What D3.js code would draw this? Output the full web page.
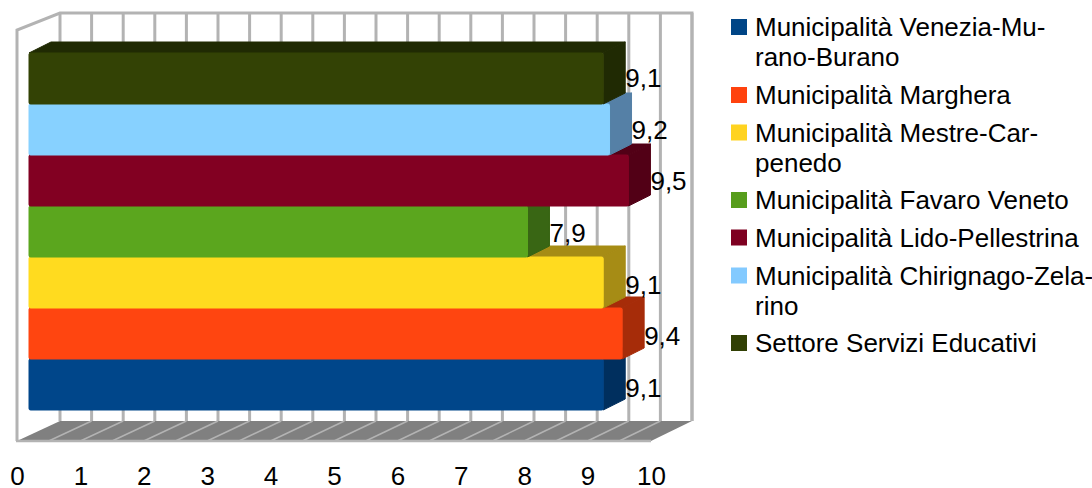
<!DOCTYPE html>
<html>
<head>
<meta charset="utf-8">
<script src="https://cdn.jsdelivr.net/npm/d3@7/dist/d3.min.js"></script>
<style>
  html, body { margin: 0; padding: 0; background: #fff; }
  svg { display: block; }
  text { font-family: "Liberation Sans", sans-serif; fill: #000; }
</style>
</head>
<body>
<svg id="chart" width="1092" height="488"></svg>
<script>
// Series, listed bottom bar first
const seriesNames = [
  "Municipalità Venezia-Murano-Burano",
  "Municipalità Marghera",
  "Municipalità Mestre-Carpenedo",
  "Municipalità Favaro Veneto",
  "Municipalità Lido-Pellestrina",
  "Municipalità Chirignago-Zelarino",
  "Settore Servizi Educativi"
];
const seriesValues = [9.1, 9.4, 9.1, 7.9, 9.5, 9.2, 9.1];
const seriesColors = ["#004586", "#ff420e", "#ffd320", "#579d1c", "#7e0021", "#83caff", "#314004"];
// Lit front faces are a little brighter than the flat legend swatches
const frontColors  = ["#00468a", "#ff4510", "#ffdb1f", "#5ba61e", "#820022", "#87d1ff", "#334205"];
const shadeColors  = ["#002f5e", "#a62c09", "#a68c15", "#396614", "#520016", "#5580a6", "#202a03"];
const legendLines = [
  ["Municipalità Venezia-Mu-", "rano-Burano"],
  ["Municipalità Marghera"],
  ["Municipalità Mestre-Car-", "penedo"],
  ["Municipalità Favaro Veneto"],
  ["Municipalità Lido-Pellestrina"],
  ["Municipalità Chirignago-Zela-", "rino"],
  ["Settore Servizi Educativi"]
];
const axisTicks = [0, 1, 2, 3, 4, 5, 6, 7, 8, 9, 10];
const gridSteps = d3.range(0, 10.01, 0.5);

const svg = d3.select("#chart");

// Projection of the 3D box: back wall, front edge of the floor, bar front faces
const wallX  = d3.scaleLinear().domain([0, 10]).range([60, 692]);
const floorX = d3.scaleLinear().domain([0, 10]).range([17, 651]);
const barX   = d3.scaleLinear().domain([0, 10]).range([29, 660]);
const barY   = d3.scaleBand().domain(d3.range(seriesValues.length)).range([410, 53]);
const labelY = d3.scalePoint().domain(d3.range(seriesValues.length)).range([388, 78]);
const depth = { dx: 22, dy: -11 };
const wall = { top: 13, bottom: 421, front: 441, sideTop: 30 };
const gridGray = "#b3b3b3";

// Walls
svg.append("path")
  .attr("d", `M${floorX(0)},${wall.front}V${wall.sideTop}L${wallX(0)},${wall.top}H${wallX(10)}V${wall.bottom}H${wallX(0)}Z`)
  .attr("fill", "#fff");
svg.append("path")
  .attr("d", `M${floorX(0)},${wall.front}V${wall.sideTop}L${wallX(0)},${wall.top}H${wallX(10)}V${wall.bottom}`)
  .attr("fill", "none").attr("stroke", gridGray).attr("stroke-width", 3);
svg.append("g").selectAll("line").data(gridSteps).join("line")
  .attr("x1", d => wallX(d)).attr("x2", d => wallX(d))
  .attr("y1", wall.top).attr("y2", wall.bottom)
  .attr("stroke", gridGray).attr("stroke-width", 3);

// Floor
svg.append("path")
  .attr("d", `M${floorX(0)},${wall.front}L${wallX(0)},${wall.bottom}H${wallX(10)}L${floorX(10)},${wall.front}Z`)
  .attr("fill", "#808080");
svg.append("g").selectAll("line").data(gridSteps.slice(1, -1)).join("line")
  .attr("x1", d => floorX(d)).attr("x2", d => wallX(d))
  .attr("y1", wall.front).attr("y2", wall.bottom)
  .attr("stroke", gridGray).attr("stroke-width", 1.5);
svg.append("line")
  .attr("x1", floorX(0) - 1).attr("x2", floorX(10))
  .attr("y1", wall.front).attr("y2", wall.front)
  .attr("stroke", gridGray).attr("stroke-width", 2.5);

// Bars: painted bottom to top so each one overlaps the top face of the one below
const bars = svg.append("g").selectAll("g").data(seriesValues).join("g")
  .attr("stroke-linejoin", "round").attr("stroke-width", 1);
const face = (sel, fill) => sel.attr("fill", fill).attr("stroke", fill);

bars.append("path")   // top face
  .attr("d", (d, i) => {
    const y = barY(i), x0 = barX(0), x1 = barX(d);
    return `M${x0},${y}L${x0 + depth.dx},${y + depth.dy}H${x1 + depth.dx}L${x1},${y}Z`;
  })
  .call(face, (d, i) => shadeColors[i]);
bars.append("path")   // end face
  .attr("d", (d, i) => {
    const y = barY(i), h = barY.bandwidth(), x1 = barX(d);
    return `M${x1},${y}L${x1 + depth.dx},${y + depth.dy}V${y + depth.dy + h}L${x1},${y + h}Z`;
  })
  .call(face, (d, i) => shadeColors[i]);
bars.append("rect")   // front face
  .attr("x", barX(0))
  .attr("y", (d, i) => barY(i))
  .attr("width", d => barX(d) - barX(0))
  .attr("height", barY.bandwidth())
  .attr("rx", 1.5)
  .call(face, (d, i) => frontColors[i]);

// Value labels with a decimal comma
const decimalComma = d => d3.format(".1f")(d).replace(".", ",");
svg.append("g").selectAll("text").data(seriesValues).join("text")
  .attr("x", d => barX(d) + depth.dx)
  .attr("y", (d, i) => labelY(i))
  .attr("dy", 9)
  .attr("font-size", 26)
  .text(decimalComma);

// Value axis
const axis = svg.append("g")
  .attr("transform", "translate(0,485)")
  .call(d3.axisTop(floorX).tickValues(axisTicks).tickSize(0).tickPadding(0).tickFormat(d3.format("d")));
axis.select(".domain").remove();
axis.selectAll("text").attr("font-size", 26).attr("font-family", '"Liberation Sans", sans-serif').attr("fill", "#000");

// Legend
const legendCenters = [27, 95, 132.5, 200, 237.5, 275.5, 343];
const legendGap = 30;
const legend = svg.append("g").selectAll("g").data(seriesNames).join("g")
  .attr("transform", (d, i) => `translate(731,${legendCenters[i]})`);
legend.append("rect")
  .attr("x", 0).attr("y", -8).attr("width", 16).attr("height", 16)
  .attr("fill", (d, i) => seriesColors[i]);
legend.each(function (d, i) {
  d3.select(this).selectAll("text").data(legendLines[i]).join("text")
    .attr("x", 24)
    .attr("y", (l, j) => j * legendGap)
    .attr("dy", 9)
    .attr("font-size", 26)
    .text(l => l);
});
</script>
</body>
</html>
